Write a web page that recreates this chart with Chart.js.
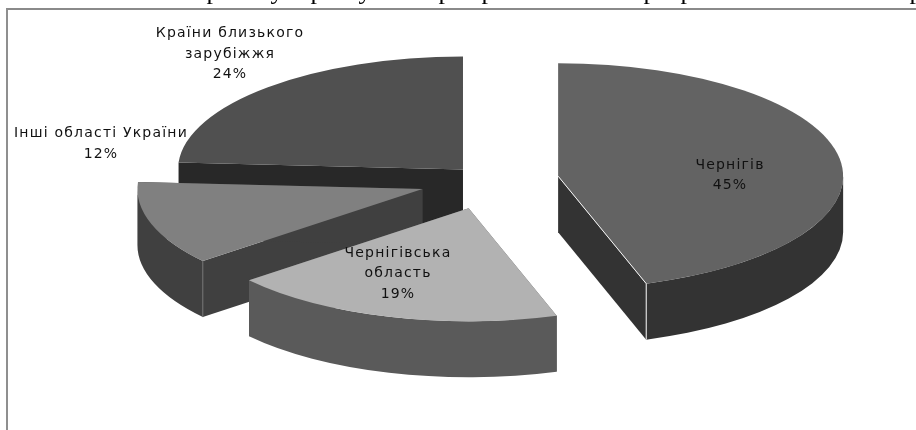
<!DOCTYPE html>
<html lang="uk">
<head>
<meta charset="utf-8">
<title>Розподіл за регіонами</title>
<script src="https://cdn.jsdelivr.net/npm/chart.js@4/dist/chart.umd.min.js"></script>
<style>
    html, body { margin: 0; padding: 0; background: #fff; overflow: hidden; }
    #wrap { position: relative; width: 916px; height: 430px; }
    #frame {
        position: absolute; left: 6px; top: 8px; right: -4px; bottom: -4px;
        border-left: 2px solid #8f8f8f; border-top: 2px solid #8a8a8a;
    }
    #pie { position: absolute; left: 0; top: 0; }
</style>
</head>
<body>
<div id="wrap">
    <div id="frame"></div>
    <canvas id="pie" width="916" height="430"></canvas>
</div>
<script>
const categories = ['Чернігів', 'Чернігівська область', 'Інші області України', 'Країни близького зарубіжжя'];
const shares = [45, 19, 12, 24];

const topColors = ['#636363', '#b2b2b2', '#808080', '#505050'];
const wallColors = ['#333333', '#5a5a5a', '#404040', '#282828'];

// how far each slice is pulled out of the pie
const explode = [70, 73, 70, 38];

// wrapped label lines and where the first line of each one sits
const labelLines = [['Чернігів'], ['Чернігівська', 'область'], ['Інші області України'], ['Країни близького', 'зарубіжжя']];
const labelAnchors = [[730, 165], [398, 253], [101, 133.5], [230, 33.5]];

// bottom of the heading line above the frame
const headingGlyphs = [['р', 213], ['у', 277], ['р', 317], ['у', 365], ['р', 445], ['р', 488], ['р', 650], ['р', 687], ['р', 916]];

const TILT = 0.3965;
const DEPTH = 56;
const CENTER_Y = 180.5;
const RADIUS = 285;

function midAngle(arc) {
    return (arc.startAngle + arc.endAngle) / 2;
}

function screenPoint(arc, i, angle, r) {
    const mid = midAngle(arc);
    return {
        x: arc.x + Math.cos(mid) * explode[i] + Math.cos(angle) * r,
        y: CENTER_Y + TILT * (Math.sin(mid) * explode[i] + Math.sin(angle) * r)
    };
}

function line(ctx, color, points) {
    ctx.save();
    ctx.strokeStyle = color;
    ctx.lineWidth = 1;
    ctx.beginPath();
    points.forEach((p, n) => n === 0 ? ctx.moveTo(p.x, p.y) : ctx.lineTo(p.x, p.y));
    ctx.stroke();
    ctx.restore();
}

// radial wall between the centre and the rim at one angle
function fillRadialWall(ctx, arc, angle, drop) {
    const rimX = arc.x + Math.cos(angle) * arc.outerRadius;
    const rimY = arc.y + Math.sin(angle) * arc.outerRadius;
    ctx.beginPath();
    ctx.moveTo(arc.x, arc.y);
    ctx.lineTo(rimX, rimY);
    ctx.lineTo(rimX, rimY + drop);
    ctx.lineTo(arc.x, arc.y + drop);
    ctx.closePath();
    ctx.fill();
}

function drawSlice(ctx, arc, i) {
    const mid = midAngle(arc);
    const drop = DEPTH / TILT;

    ctx.save();
    ctx.translate(0, CENTER_Y);
    ctx.scale(1, TILT);
    ctx.translate(0, -arc.y);
    ctx.translate(Math.cos(mid) * explode[i], Math.sin(mid) * explode[i]);

    ctx.fillStyle = wallColors[i];
    fillRadialWall(ctx, arc, arc.startAngle, drop);
    fillRadialWall(ctx, arc, arc.endAngle, drop);

    // curved rim band, only the part facing the viewer (0 to PI)
    const from = Math.max(arc.startAngle, 0);
    const to = Math.min(arc.endAngle, Math.PI);
    if (to > from) {
        ctx.beginPath();
        ctx.arc(arc.x, arc.y, arc.outerRadius, from, to);
        ctx.arc(arc.x, arc.y + drop, arc.outerRadius, to, from, true);
        ctx.closePath();
        ctx.fill();
    }

    arc.draw(ctx);
    ctx.restore();
}

const pie3d = {
    id: 'pie3d',
    beforeDatasetDraw(chart, args) {
        const ctx = chart.ctx;
        const arcs = args.meta.data;

        // back to front
        for (let i = arcs.length - 1; i >= 0; i--) {
            drawSlice(ctx, arcs[i], i);
        }

        // light highlights on the wall corners
        const first = arcs[0];
        const tip = screenPoint(first, 0, 0, 0);
        const corner = screenPoint(first, 0, first.endAngle, first.outerRadius);
        line(ctx, '#f4f4f4', [tip, corner, { x: corner.x, y: corner.y + DEPTH }]);

        const third = arcs[2];
        const edge = screenPoint(third, 2, third.startAngle, third.outerRadius);
        line(ctx, '#707070', [edge, { x: edge.x, y: edge.y + DEPTH }]);

        return false;
    },
    afterDraw(chart) {
        const ctx = chart.ctx;
        ctx.save();
        ctx.textAlign = 'center';
        ctx.textBaseline = 'middle';
        ctx.fillStyle = '#111';
        ctx.font = '14px "DejaVu Sans"';
        ctx.letterSpacing = '1.2px';
        labelLines.forEach((lines, i) => {
            const [x, y] = labelAnchors[i];
            lines.concat(shares[i] + '%').forEach((text, n) => {
                ctx.fillText(text, x, y + n * 20.5);
            });
        });

        ctx.letterSpacing = '0px';
        ctx.fillStyle = '#000';
        ctx.font = '26px "Liberation Serif"';
        ctx.textBaseline = 'alphabetic';
        headingGlyphs.forEach(([glyph, x]) => ctx.fillText(glyph, x, -1));
        ctx.restore();
    }
};

new Chart(document.getElementById('pie').getContext('2d'), {
    type: 'pie',
    data: {
        labels: categories,
        datasets: [{
            data: shares,
            backgroundColor: topColors,
            borderWidth: 0,
            radius: RADIUS
        }]
    },
    options: {
        responsive: false,
        animation: false,
        layout: { padding: { left: 62 } },
        plugins: {
            legend: { display: false },
            tooltip: { enabled: false }
        }
    },
    plugins: [pie3d]
});
</script>
</body>
</html>
